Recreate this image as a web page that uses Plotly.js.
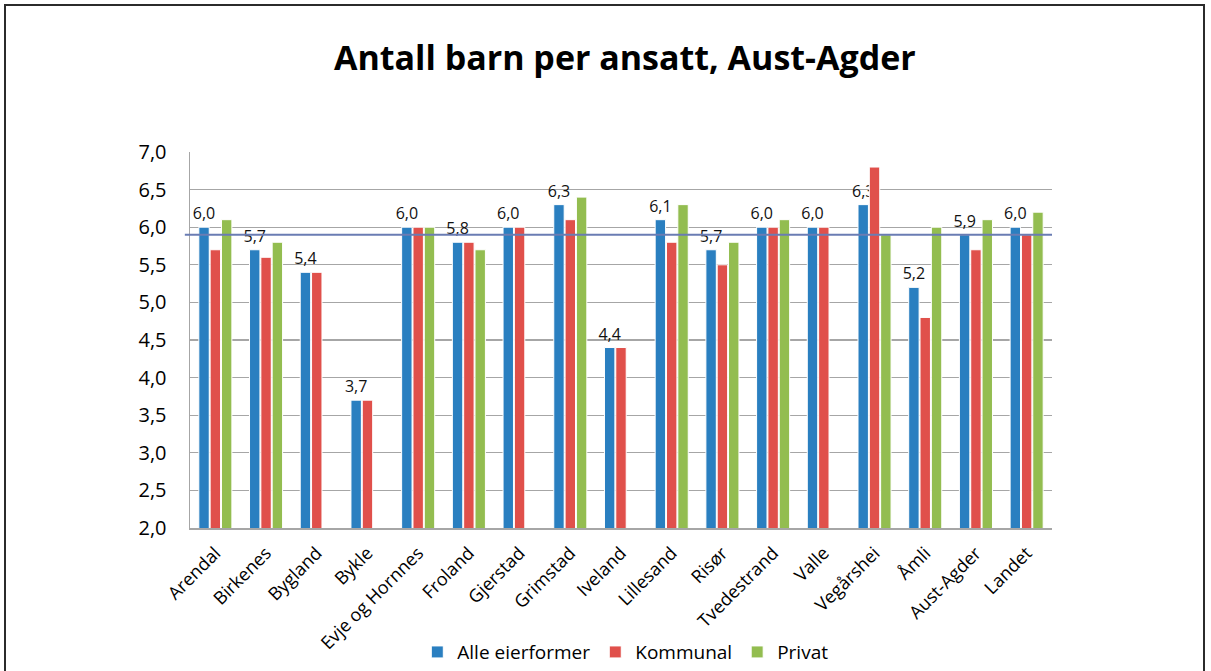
<!DOCTYPE html>
<html>
<head>
<meta charset="utf-8">
<script src="https://cdn.plot.ly/plotly-3.0.1.min.js"></script>
<style>
  html, body { margin: 0; padding: 0; background: #fff; width: 1211px; height: 671px; overflow: hidden; }
  #frame { position: absolute; left: 4px; top: 4px; width: 1197px; height: 700px; border: 2px solid #2b2b2b; border-bottom: none; }
  #chart { position: absolute; left: 0; top: 0; width: 1211px; height: 671px; }
</style>
</head>
<body>
<div id="frame"></div>
<div id="chart"></div>
<script>
const categories = ["Arendal", "Birkenes", "Bygland", "Bykle", "Evje og Hornnes", "Froland", "Gjerstad", "Grimstad", "Iveland", "Lillesand", "Risør", "Tvedestrand", "Valle", "Vegårshei", "Åmli", "Aust-Agder", "Landet"];
const alleEierformer = [6.0, 5.7, 5.4, 3.7, 6.0, 5.8, 6.0, 6.3, 4.4, 6.1, 5.7, 6.0, 6.0, 6.3, 5.2, 5.9, 6.0];
const kommunal      = [5.7, 5.6, 5.4, 3.7, 6.0, 5.8, 6.0, 6.1, 4.4, 5.8, 5.5, 6.0, 6.0, 6.8, 4.8, 5.7, 5.9];
const privat        = [6.1, 5.8, null, null, 6.0, 5.7, null, 6.4, null, 6.3, 5.8, 6.1, null, 5.9, 6.0, 6.1, 6.2];
const seriesNames = ["Alle eierformer", "Kommunal", "Privat"];
const referenceLine = 5.9;
const yTicks = [2.0, 2.5, 3.0, 3.5, 4.0, 4.5, 5.0, 5.5, 6.0, 6.5, 7.0];

const colors = ["#2a7fc0", "#e0504b", "#93bd50"];
const font = "Open Sans, Noto Sans, sans-serif";

const base = {
  type: "bar",
  x: categories,
  hoverinfo: "x+y"
};

const traces = [
  Object.assign({}, base, {
    name: seriesNames[0], y: alleEierformer,
    marker: { color: colors[0], line: { color: "#ffffff", width: 1 } },
    text: alleEierformer, texttemplate: "%{y:.1f}", textposition: "outside",
    constraintext: "none", cliponaxis: false,
    textfont: { family: font, size: 16, color: "#111" }
  }),
  Object.assign({}, base, {
    name: seriesNames[1], y: kommunal,
    marker: { color: colors[1], line: { color: "#ffffff", width: 1 } }
  }),
  Object.assign({}, base, {
    name: seriesNames[2], y: privat,
    marker: { color: colors[2], line: { color: "#ffffff", width: 1 } }
  })
];

const layout = {
  width: 1211, height: 671,
  paper_bgcolor: "rgba(0,0,0,0)",
  plot_bgcolor: "#ffffff",
  separators: ", ",
  margin: { l: 190, r: 159, t: 152, b: 143, autoexpand: false },
  title: {
    text: "<b>Antall barn per ansatt, Aust-Agder</b>",
    font: { family: font, size: 34, color: "#000" },
    x: 0.516, xanchor: "center", y: 0.913, yanchor: "middle"
  },
  barmode: "group",
  bargap: 0.33,
  bargroupgap: 0.08,
  xaxis: {
    type: "category",
    automargin: false,
    tickangle: -45,
    tickfont: { family: font, size: 18, color: "#000" },
    ticklabelstandoff: 6,
    showline: true, linecolor: "#a6a6a6", linewidth: 1.5,
    ticks: "", showgrid: false
  },
  yaxis: {
    automargin: false,
    range: [2.0, 7.0],
    tickvals: yTicks,
    tickformat: ".1f",
    tickfont: { family: font, size: 20, color: "#000" },
    ticklabelstandoff: 18,
    showgrid: true, gridcolor: "#a6a6a6", gridwidth: 1.2,
    showline: true, linecolor: "#a6a6a6", linewidth: 1.5,
    ticks: "", zeroline: false
  },
  shapes: [{
    type: "line", xref: "paper", x0: -0.006, x1: 1, yref: "y", y0: referenceLine, y1: referenceLine,
    line: { color: "#6a7cb3", width: 2 }
  }],
  legend: {
    orientation: "h", x: 0.505, xanchor: "center", y: -0.33, yanchor: "middle",
    font: { family: font, size: 19, color: "#000" },
    itemwidth: 30, traceorder: "normal"
  },
  showlegend: true
};

Plotly.newPlot("chart", traces, layout, { displayModeBar: false, staticPlot: true });
</script>
</body>
</html>
